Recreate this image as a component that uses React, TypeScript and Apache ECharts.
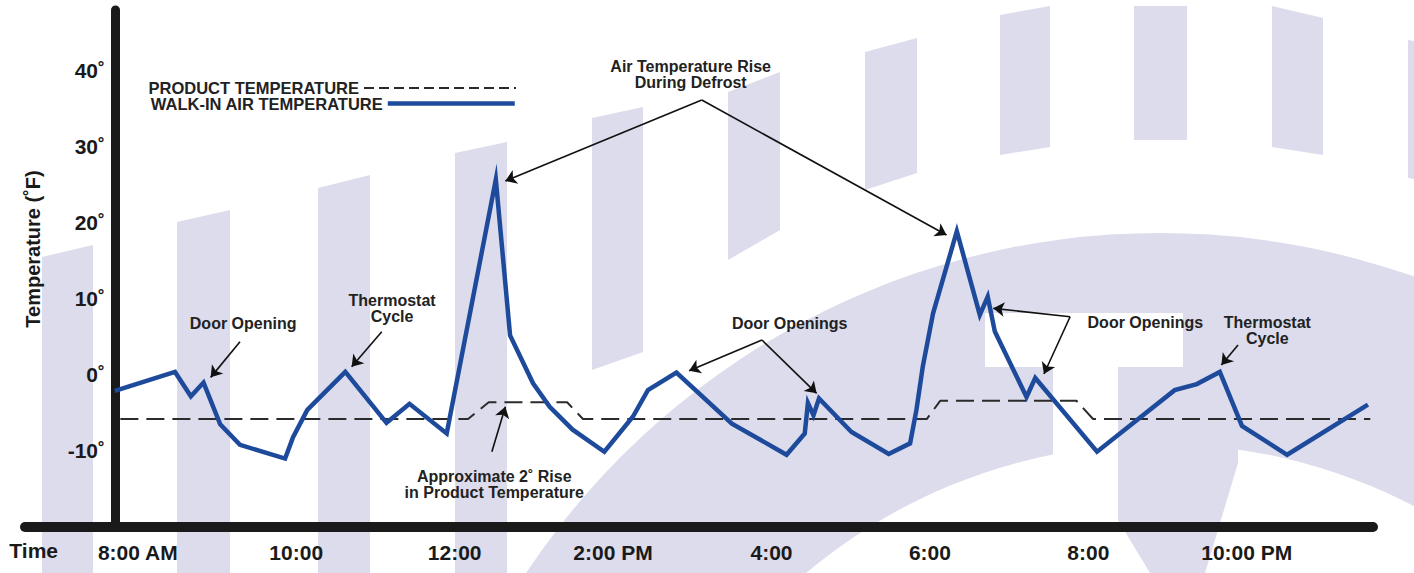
import React, { useEffect, useRef } from "react";
import * as echarts from "echarts";

// ---- data (hours of day, °F) ----
const airTime = [7.71, 8.47, 8.67, 8.83, 9.04, 9.29, 9.86, 9.96, 10.14, 10.62, 11.14, 11.43, 11.9, 12.52, 12.7, 12.99, 13.2, 13.49, 13.89, 14.25, 14.44, 14.8, 15.5, 16.19, 16.42, 16.46, 16.53, 16.6, 17.01, 17.48, 17.75, 17.83, 17.91, 18.04, 18.34, 18.63, 18.73, 18.82, 19.22, 19.33, 20.11, 21.09, 21.37, 21.66, 21.94, 22.51, 23.53];
const airTemp = [-2.1, 0.4, -2.8, -1.0, -6.5, -9.2, -11.0, -8.2, -4.6, 0.4, -6.3, -3.8, -7.7, 25.7, 5.2, -1.1, -4.2, -7.2, -10.1, -5.5, -2.0, 0.3, -6.4, -10.5, -7.7, -3.7, -5.3, -3.1, -7.5, -10.4, -9.0, -4.6, 1.1, 8.1, 18.9, 7.9, 10.3, 5.7, -2.9, -0.4, -10.1, -2.0, -1.2, 0.4, -6.7, -10.5, -3.9];

const productTime = [7.78, 12.17, 12.43, 13.42, 13.62, 17.96, 18.13, 19.85, 20.06, 23.56];
const productTemp = [-5.8, -5.8, -3.6, -3.6, -5.8, -5.8, -3.4, -3.4, -5.8, -5.8];

const xTickValues = [8, 10, 12, 14, 16, 18, 20, 22];
const xTickLabels = ["8:00 AM", "10:00", "12:00", "2:00 PM", "4:00", "6:00", "8:00", "10:00 PM"];
const yTickValues = [-10, 0, 10, 20, 30, 40];

const seriesNames = ["PRODUCT TEMPERATURE", "WALK-IN AIR TEMPERATURE"];

// annotation anchors in data space [hour, °F]
const noteTexts = [
  "Door Opening",
  "Thermostat\nCycle",
  "Air Temperature Rise\nDuring Defrost",
  "Approximate 2˚ Rise\nin Product Temperature",
  "Door Openings",
  "Door Openings",
  "Thermostat\nCycle",
];
const noteAt = [
  [9.33, 6.76],
  [11.21, 8.73],
  [14.98, 39.58],
  [12.5, -14.35],
  [16.23, 6.79],
  [20.72, 6.87],
  [22.26, 5.84],
];
const arrowFrom = [
  [9.29, 4.37],
  [11.08, 5.68],
  [15.12, 36.16],
  [15.12, 36.16],
  [12.47, -10.1],
  [15.88, 4.59],
  [15.88, 4.59],
  [19.77, 7.65],
  [19.77, 7.65],
  [21.89, 3.93],
];
const arrowTo = [
  [8.92, -0.32],
  [10.7, 1.08],
  [12.64, 25.5],
  [18.21, 18.4],
  [12.64, -4.18],
  [14.96, 0.55],
  [16.57, -2.42],
  [18.8, 8.76],
  [19.44, 0.12],
  [21.68, 1.3],
];

const FONT = "'Liberation Sans', Arial, Helvetica, sans-serif";
const LAV = "#dcdcec";
const BLUE = "#1e4a9c";

function buildBackground() {
  const stripes = [
    [[42, 257], [93, 245], [93, 573], [42, 573]],
    [[177, 222], [230, 210], [230, 573], [177, 573]],
    [[318, 188], [370, 175], [370, 573], [318, 573]],
    [[455, 153], [507, 142], [507, 573], [455, 573]],
    [[592, 118], [643, 107], [643, 352], [592, 370]],
    [[728, 92], [780, 72], [780, 230], [728, 260]],
    [[865, 52], [917, 38], [917, 173], [865, 190]],
    [[1000, 15], [1050, 6], [1050, 147], [1000, 155]],
    [[1134, 6], [1187, 6], [1187, 140], [1134, 140]],
    [[1272, 6], [1323, 18], [1323, 155], [1272, 147]],
    [[1408, 40], [1420, 42], [1420, 180], [1408, 178]],
  ];
  const els: any[] = stripes.map((p) => ({
    type: "polygon",
    z: -10,
    silent: true,
    shape: { points: p },
    style: { fill: LAV },
  }));
  els.push({ type: "circle", z: -10, silent: true, shape: { cx: 1160, cy: 994, r: 761 }, style: { fill: LAV } });
  els.push({ type: "circle", z: -10, silent: true, shape: { cx: 1160, cy: 994, r: 550 }, style: { fill: "#ffffff" } });
  els.push({ type: "rect", z: -10, silent: true, shape: { x: 985, y: 313, width: 198, height: 54 }, style: { fill: "#ffffff" } });
  els.push({ type: "rect", z: -10, silent: true, shape: { x: 1053, y: 367, width: 65, height: 130 }, style: { fill: "#ffffff" } });
  els.push({
    type: "polygon",
    z: -10,
    silent: true,
    shape: { points: [[1118, 367], [1238, 367], [1238, 463], [1205, 573], [1150, 573], [1118, 520]] },
    style: { fill: LAV },
  });
  return els;
}

export default function App() {
  const ref = useRef<HTMLDivElement>(null);

  useEffect(() => {
    document.body.style.margin = "0";
    document.body.style.overflow = "hidden";
    const chart = echarts.init(ref.current!, undefined, { renderer: "svg" });

    const airData = airTime.map((t, i) => [t, airTemp[i]]);
    const productData = productTime.map((t, i) => [t, productTemp[i]]);

    const legendText = { fontFamily: FONT, fontWeight: "bold", fontSize: 16.5, color: "#222" };

    const option: any = {
      animation: false,
      backgroundColor: "#ffffff",
      textStyle: { fontFamily: FONT },
      graphic: { elements: buildBackground() },
      grid: { left: 25, right: 41, top: 10, bottom: 46, containLabel: false },
      legend: [
        {
          data: [seriesNames[0]],
          right: 897,
          top: 79.5,
          padding: 0,
          align: "right",
          itemWidth: 152,
          itemHeight: 14,
          selectedMode: false,
          textStyle: legendText,
          itemStyle: { opacity: 0 },
          lineStyle: { type: [10, 5], width: 2, color: "#2b2b2b" },
        },
        {
          data: [seriesNames[1]],
          right: 897,
          top: 95,
          padding: 0,
          align: "right",
          itemWidth: 127,
          itemHeight: 14,
          selectedMode: false,
          textStyle: legendText,
          itemStyle: { opacity: 0 },
          lineStyle: { width: 4.5, color: BLUE },
        },
      ],
      xAxis: {
        type: "value",
        min: 6.576,
        max: 23.594,
        name: "Time",
        nameLocation: "start",
        nameGap: -33,
        nameTextStyle: {
          fontFamily: FONT,
          fontWeight: "bold",
          fontSize: 21,
          color: "#1a1a1a",
          verticalAlign: "top",
          lineHeight: 46,
        },
        axisLine: { show: true, onZero: false, lineStyle: { color: "#1a1a1a", width: 10 } },
        axisTick: { show: false },
        splitLine: { show: false },
        axisLabel: {
          customValues: xTickValues,
          margin: 15,
          fontFamily: FONT,
          fontWeight: "bold",
          fontSize: 21,
          color: "#1a1a1a",
          formatter: (v: number) => {
            const i = xTickValues.indexOf(Math.round(v * 1000) / 1000);
            return i >= 0 ? xTickLabels[i] : "";
          },
        },
      },
      yAxis: {
        type: "value",
        position: "left",
        offset: -90,
        min: -20,
        max: 48,
        interval: 10,
        name: "Temperature (˚F)",
        nameLocation: "middle",
        nameRotate: 90,
        nameGap: 72,
        nameTextStyle: { fontFamily: FONT, fontWeight: "bold", fontSize: 20, color: "#1a1a1a", padding: [0, 0, 0, 39] },
        axisLine: { show: true, onZero: false, lineStyle: { color: "#1a1a1a", width: 9 } },
        axisTick: { show: false },
        splitLine: { show: false },
        axisLabel: {
          margin: 10,
          fontFamily: FONT,
          fontWeight: "bold",
          fontSize: 21,
          color: "#1a1a1a",
          formatter: (v: number) => (yTickValues.indexOf(v) >= 0 ? v + "˚" : ""),
        },
      },
      series: [
        {
          name: seriesNames[0],
          type: "line",
          data: productData,
          symbol: "none",
          silent: true,
          z: 3,
          lineStyle: { color: "#2b2b2b", width: 2, type: [18, 8] },
          itemStyle: { color: "#2b2b2b" },
        },
        {
          name: seriesNames[1],
          type: "line",
          data: airData,
          symbol: "none",
          silent: true,
          z: 4,
          lineStyle: { color: BLUE, width: 4.5, join: "miter", miterLimit: 12 },
          itemStyle: { color: BLUE },
          markLine: {
            silent: true,
            animation: false,
            symbol: ["none", "arrow"],
            symbolSize: 11,
            label: { show: false },
            emphasis: { disabled: true },
            lineStyle: { color: "#111", width: 1.6, type: "solid" },
            data: arrowFrom.map((a, i) => [{ coord: a }, { coord: arrowTo[i] }]),
          },
          markPoint: {
            silent: true,
            animation: false,
            symbol: "circle",
            symbolSize: 1,
            itemStyle: { color: "transparent" },
            label: {
              show: true,
              position: "inside",
              color: "#222",
              fontFamily: FONT,
              fontWeight: "bold",
              fontSize: 16,
              lineHeight: 16,
              align: "center",
              verticalAlign: "middle",
              formatter: (p: any) => p.name,
            },
            data: noteTexts.map((t, i) => ({ name: t, coord: noteAt[i] })),
          },
        },
      ],
    };

    chart.setOption(option);
    return () => chart.dispose();
  }, []);

  return (
    <div style={{ width: 1414, height: 573, overflow: "hidden" }}>
      <div ref={ref} style={{ width: 1414, height: 573 }} />
    </div>
  );
}
